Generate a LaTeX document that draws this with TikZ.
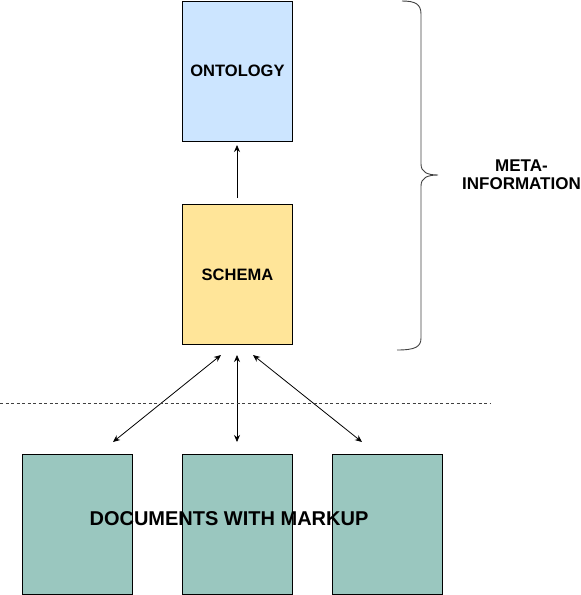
\documentclass[tikz,border=0pt]{standalone}
\usepackage{fontspec}
\setmainfont{Liberation Sans}
\usetikzlibrary{arrows.meta}
\definecolor{ontfill}{HTML}{CCE5FF}
\definecolor{schfill}{HTML}{FFE599}
\definecolor{docfill}{HTML}{9AC7BF}
\begin{document}
\begin{tikzpicture}[x=1pt,y=-1pt,
  box/.style={draw=black,line width=0.9pt,minimum width=110pt,minimum height=140pt,inner sep=0pt,anchor=north west},
  lbl/.style={font=\bfseries\fontsize{16.5}{18}\selectfont},
  arr/.style={line width=0.8pt,{Stealth[length=7pt,width=6pt]}-{Stealth[length=7pt,width=6pt]}},
  uarr/.style={line width=0.8pt,-{Stealth[length=7pt,width=6pt]}}]
\useasboundingbox (0,0) rectangle (581,595);
\node[box,fill=ontfill] (ont) at (182,0.5) {};
\node[box,fill=schfill] (sch) at (182,204) {};
\node[box,fill=docfill] (d1) at (22,454) {};
\node[box,fill=docfill] (d2) at (182,454) {};
\node[box,fill=docfill] (d3) at (332,454) {};
\node[lbl] (ontl) at (ont.center) {ONTOLOGY};
\node[lbl] (schl) at (sch.center) {SCHEMA};
\node[font=\bfseries\fontsize{20}{22}\selectfont] (docl) at (229,519) {DOCUMENTS WITH MARKUP};
\node[font=\bfseries\fontsize{17}{19}\selectfont,align=center] (meta) at (521.5,175) {META-\\[-1pt]INFORMATION};
% arrows
\coordinate (s0) at (237,198);
\coordinate (o0) at (237,145);
\draw[uarr] (s0) -- (o0);
\coordinate (s1) at (221,355);
\coordinate (e1) at (113,442);
\coordinate (s2) at (237,355);
\coordinate (e2) at (237,442);
\coordinate (s3) at (253,355);
\coordinate (e3) at (362,442);
\draw[arr] (s1) -- (e1);
\draw[arr] (s2) -- (e2);
\draw[arr] (s3) -- (e3);
% dashed separator
\coordinate (dl) at (0,403);
\coordinate (dr) at (490,403);
\draw[line width=0.8pt,black!75,dash pattern=on 3pt off 2.5pt] (dl) -- (dr);
% brace
\draw[line width=0.9pt,black!75] (402,1) .. controls (415,1) and (421,4) .. (421,14) -- (421,164)
  .. controls (421,172) and (427,175) .. (438,175)
  .. controls (427,175) and (421,178) .. (421,186) -- (421,338)
  .. controls (421,347) and (415,350) .. (397,350);
\end{tikzpicture}
\end{document}
